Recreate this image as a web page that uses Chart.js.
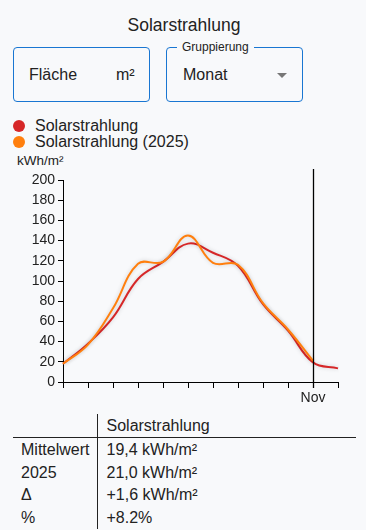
<!DOCTYPE html>
<html>
<head>
<meta charset="utf-8">
<script src="https://cdn.jsdelivr.net/npm/chart.js@4.4.1/dist/chart.umd.min.js"></script>
<style>
  html, body { margin: 0; padding: 0; }
  body {
    width: 366px; height: 530px; position: relative; overflow: hidden;
    background: #f8f9fb; color: #222;
    font-family: 'Liberation Sans', Arial, sans-serif;
  }
  .title { position: absolute; top: 15px; left: 0; width: 368px; text-align: center; font-size: 17.5px; }
  .box { position: absolute; top: 47px; height: 55px; border: 1px solid #1976d2; border-radius: 4px; box-sizing: border-box; font-size: 16px; }
  .box span { position: absolute; top: 18px; }
  .box .lbl { position: absolute; top: -8px; left: 10px; padding: 0 5px; font-size: 12px; background: #f8f9fb; }
  .arrow { position: absolute; left: 110px; top: 25px; width: 0; height: 0;
    border-left: 5px solid transparent; border-right: 5px solid transparent; border-top: 5px solid #777; }
  #legend { position: absolute; top: 118px; left: 13px; font-size: 16px; }
  #legend div { height: 16px; line-height: 16px; display: flex; align-items: center; }
  #legend i { display: inline-block; width: 12px; height: 12px; border-radius: 50%; margin-right: 10px; }
  .unit { position: absolute; top: 153px; left: 17px; font-size: 13.5px; }
  #wrap { position: absolute; top: 166px; left: 0; width: 366px; height: 245px; }
  table { position: absolute; top: 414px; left: 13px; width: 343px; table-layout: fixed; border-collapse: collapse; font-size: 16px; }
  td { padding: 0 9px; height: 22.5px; white-space: nowrap; }
  td:first-child { border-right: 1px solid #222; padding-left: 8px; width: 84px; box-sizing: border-box; }
  tr.head td { border-bottom: 1px solid #222; height: 23px; }
  tr.first td { padding-top: 1px; }
</style>
</head>
<body>
<div class="title">Solarstrahlung</div>
<div class="box" style="left:13px;width:137px;"><span style="left:15px">Fläche</span><span style="left:102px">m²</span></div>
<div class="box" style="left:166px;width:137px;"><div class="lbl">Gruppierung</div><span style="left:16px">Monat</span><div class="arrow"></div></div>
<div id="legend"></div>
<div class="unit">kWh/m²</div>
<div id="wrap"><canvas id="chart"></canvas></div>
<table>
  <tr class="head"><td></td><td>Solarstrahlung</td></tr>
  <tr class="first"><td>Mittelwert</td><td>19,4 kWh/m²</td></tr>
  <tr><td>2025</td><td>21,0 kWh/m²</td></tr>
  <tr><td>Δ</td><td>+1,6 kWh/m²</td></tr>
  <tr><td>%</td><td>+8.2%</td></tr>
</table>
<script>
const months = ["Jan", "Feb", "Mär", "Apr", "Mai", "Jun", "Jul", "Aug", "Sep", "Okt", "Nov", "Dez"];
const mean = [18, 38, 64, 102, 119, 137, 128, 115, 77, 51, 19.4, 13.5];
const year2025 = [18, 37, 73, 117, 119, 145, 118, 116, 78, 52, 21.0];
const yTicks = [0, 20, 40, 60, 80, 100, 120, 140, 160, 180, 200];
const selected = 10; // Nov

Chart.defaults.font.family = "'Liberation Sans', Arial, sans-serif";
Chart.defaults.color = '#222';

const datasets = [
  { label: 'Solarstrahlung', data: mean, borderColor: '#d62728', backgroundColor: '#d62728', order: 1 },
  { label: 'Solarstrahlung (2025)', data: year2025, borderColor: '#ff7f0e', backgroundColor: '#ff7f0e', order: 0 }
];

// legend
document.getElementById('legend').innerHTML = datasets.map(d =>
  '<div><i style="background:' + d.borderColor + '"></i>' + d.label + '</div>').join('');

const crosshair = {
  id: 'crosshair',
  beforeDatasetDraw(chart) {
    const c = chart.ctx;
    c.save();
    c.shadowColor = 'rgba(0,0,0,0.18)';
    c.shadowBlur = 4;
  },
  afterDatasetDraw(chart) { chart.ctx.restore(); },
  afterDraw(chart) {
    const c = chart.ctx;
    const x = Math.round(chart.scales.x.getPixelForValue(selected)) + 0.5;
    c.save();
    c.strokeStyle = '#000';
    c.lineWidth = 1.3;
    c.beginPath();
    c.moveTo(x, 3);
    c.lineTo(x, chart.chartArea.bottom + 6);
    c.stroke();
    c.restore();
  }
};

new Chart(document.getElementById('chart'), {
  type: 'line',
  data: {
    labels: months,
    datasets: datasets.map(d => Object.assign({
      borderWidth: 2, pointRadius: 0, tension: 0.4, fill: false
    }, d))
  },
  options: {
    responsive: true,
    maintainAspectRatio: false,
    animation: false,
    layout: { padding: { top: 14, right: 28, left: 0, bottom: 0 } },
    plugins: { legend: { display: false }, tooltip: { enabled: false } },
    scales: {
      x: {
        offset: false,
        border: { color: '#000', width: 1 },
        grid: { drawOnChartArea: false, tickLength: 6, color: '#000' },
        ticks: {
          autoSkip: false, maxRotation: 0, padding: 2,
          font: { size: 14 }, color: '#222',
          callback: (v, i) => i === selected ? months[i] : ''
        },
        afterFit: s => { s.height = 29; }
      },
      y: {
        min: 0, max: 200,
        border: { color: '#000', width: 1 },
        grid: { drawOnChartArea: false, tickLength: 5, color: '#000' },
        afterBuildTicks: s => { s.ticks = yTicks.map(v => ({ value: v })); },
        ticks: { padding: 3, font: { size: 14 }, color: '#222' },
        afterFit: s => { s.width = 63; }
      }
    }
  },
  plugins: [crosshair]
});
</script>
</body>
</html>
